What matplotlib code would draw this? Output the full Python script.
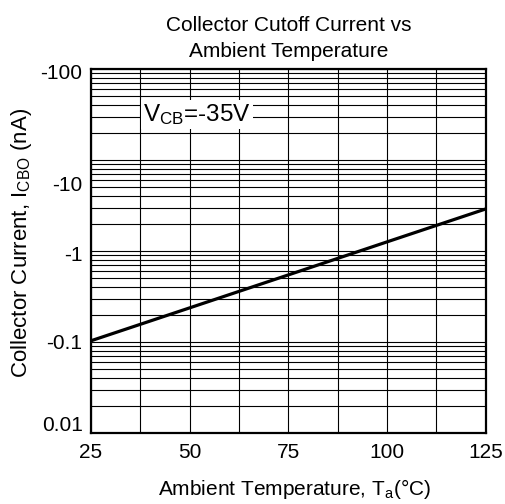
import numpy as np
import matplotlib
matplotlib.use('Agg')
import matplotlib.pyplot as plt
import matplotlib.transforms as mtransforms
from matplotlib.ticker import LogLocator, NullFormatter

plt.rcParams['font.family'] = ['Liberation Sans', 'DejaVu Sans']
plt.rcParams['mathtext.fontset'] = 'custom'
plt.rcParams['mathtext.rm'] = 'Liberation Sans'
plt.rcParams['mathtext.it'] = 'Liberation Sans'

# data (Ta in degC, ICBO in nA, magnitude)
temp = [25, 50, 75, 100, 125]
icbo = [0.103, 0.237, 0.546, 1.26, 2.9]

x_ticks = [25, 50, 75, 100, 125]
x_grid = [37.5, 62.5, 87.5, 112.5]
y_ticks = [0.01, 0.1, 1, 10, 100]
y_labels = ['0.01', '-0.1', '-1', '-10', '-100']
# vertical shift of some y labels in the original (pixels, + = up)
y_label_shift = {'0.01': 9, '-10': -23, '-1': -3, '-100': -2}

fig = plt.figure(figsize=(5.05, 5.04), dpi=100)
ax = fig.add_axes([0.180, 0.141, 0.782, 0.722])

ax.plot(temp, icbo, color='black', lw=2.3, solid_capstyle='butt', zorder=3)

ax.set_yscale('log')
ax.set_xlim(25, 125)
ax.set_ylim(0.01, 100)

ax.set_xticks(x_ticks)
ax.set_xticks(x_grid, minor=True)
ax.set_yticks(y_ticks)
ax.set_yticklabels(y_labels)
ax.yaxis.set_minor_locator(LogLocator(base=10, subs=np.arange(2, 10)))
ax.yaxis.set_minor_formatter(NullFormatter())

ax.grid(True, which='both', color='black', lw=0.8)
ax.set_axisbelow(True)
ax.tick_params(which='both', length=0, labelsize=15)
ax.tick_params(axis='y', pad=6)
ax.tick_params(axis='x', pad=7)

for s in ax.spines.values():
    s.set_linewidth(1.6)

for lab in ax.get_yticklabels():
    shift = y_label_shift.get(lab.get_text(), 0)
    if shift:
        off = mtransforms.ScaledTranslation(0, shift / 100, fig.dpi_scale_trans)
        lab.set_transform(lab.get_transform() + off)

ax.set_title('Collector Cutoff Current vs\nAmbient Temperature', fontsize=15, pad=9,
             linespacing=1.45)
ax.set_xlabel('Ambient Temperature, T$_{\\mathrm{a}}$(°C)', fontsize=15, labelpad=11)
ax.xaxis.label.set_x(0.515)
ax.set_ylabel('Collector Current, I$_{\\mathrm{CBO}}$ (nA)', fontsize=16)
ax.yaxis.set_label_coords(-0.145, 0.523)

ax.text(0.132, 0.876, 'V$_{\\mathrm{CB}}$=-35V', transform=ax.transAxes, fontsize=17.5,
        ha='left', va='center', zorder=4,
        bbox=dict(facecolor='white', edgecolor='none', pad=1.5))

fig.savefig('out.png', dpi=100)
